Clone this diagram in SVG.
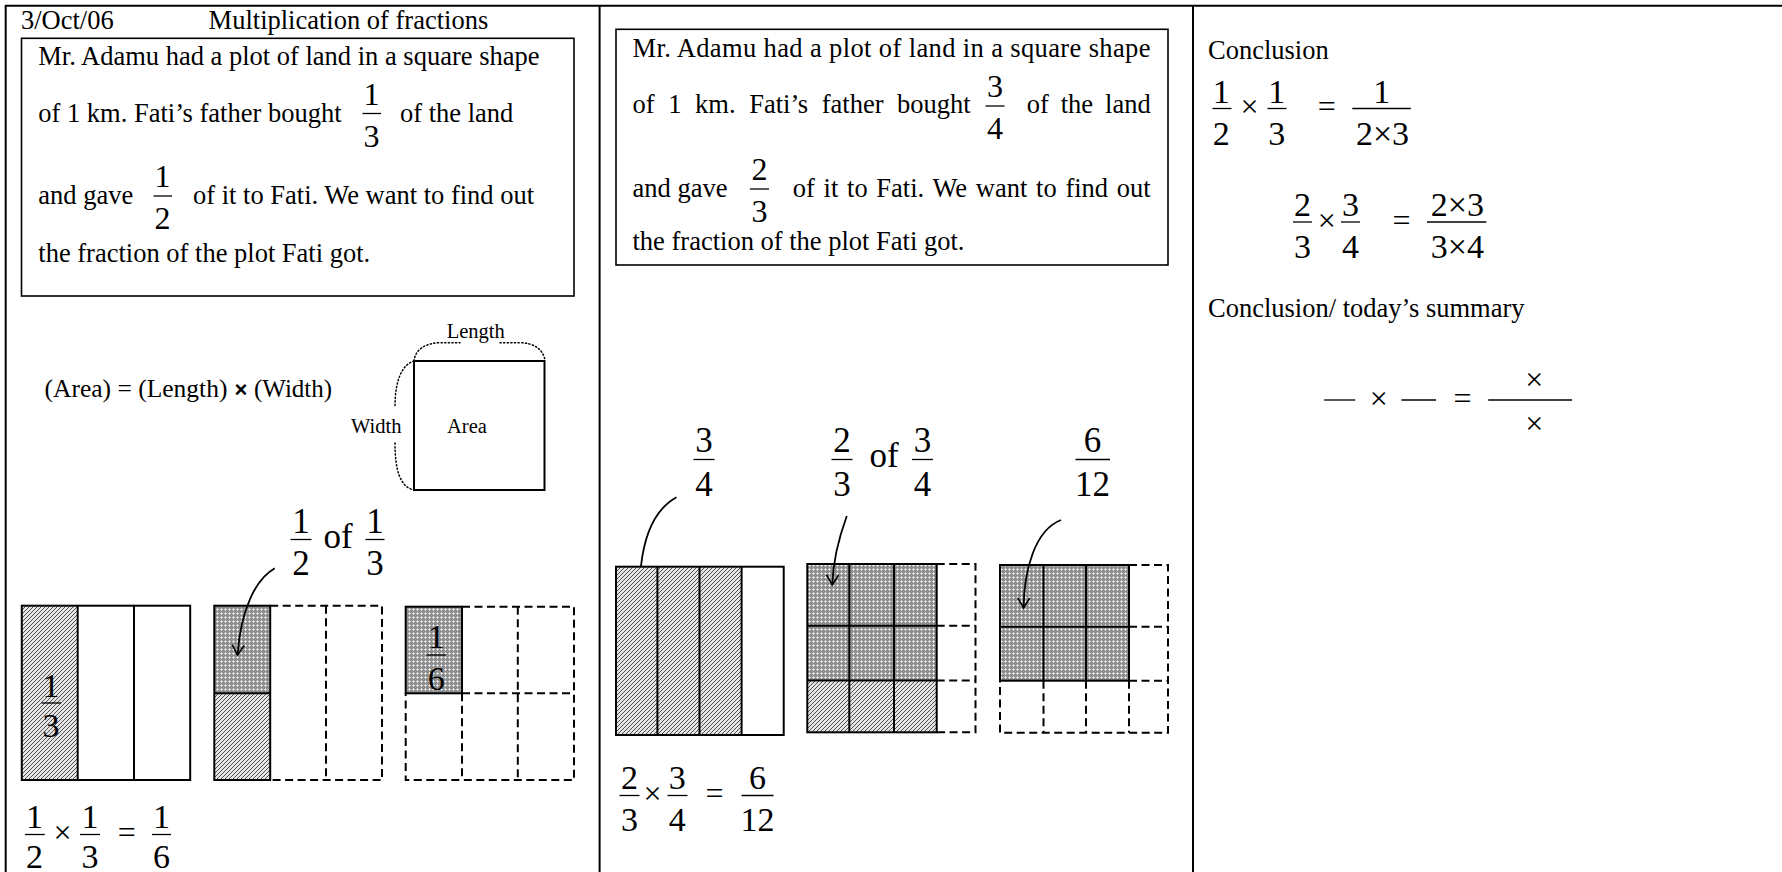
<svg xmlns="http://www.w3.org/2000/svg" width="1782" height="872" viewBox="0 0 1782 872">
<style>
text{font-family:"Liberation Serif","Times New Roman",serif;fill:#000}
.t{font-size:26.5px}
.f{font-size:32px;text-anchor:middle}
.fe{font-size:34px;text-anchor:middle}
.fl{font-size:35px;text-anchor:middle}
.op{font-size:32px;text-anchor:middle}
.s{font-size:20.5px}
.bar{stroke:#000;stroke-width:1.3}
.solid{fill:none;stroke:#000;stroke-width:2}
.dash{fill:none;stroke:#000;stroke-width:2;stroke-dasharray:8 4.5}
.dot{fill:none;stroke:#000;stroke-width:1.5;stroke-dasharray:1.2 2.4;stroke-linecap:round}
.box{fill:none;stroke:#000;stroke-width:1.6}
.frame{fill:none;stroke:#000;stroke-width:2}
.conn{fill:none;stroke:#000;stroke-width:1.8}
.arr{marker-end:url(#ah)}
</style>
<defs>
<pattern id="hatch" patternUnits="userSpaceOnUse" width="4" height="4">
<rect width="4" height="4" fill="#e4e4e4"/>
<path d="M-1,1 L1,-1 M0,4 L4,0 M3,5 L5,3" stroke="#505050" stroke-width="1"/>
</pattern>
<pattern id="cross" patternUnits="userSpaceOnUse" width="4" height="4">
<rect width="4" height="4" fill="#8e8e8e"/>
<rect x="0" y="1" width="3" height="1" fill="#cecece"/>
<rect x="1" y="0" width="1" height="3" fill="#cecece"/>
<rect x="1" y="1" width="1" height="1" fill="#ffffff"/>
</pattern>
<marker id="ah" markerUnits="userSpaceOnUse" markerWidth="16" markerHeight="16" refX="11" refY="7" orient="auto">
<path d="M1,1 L11,7 L1,13" fill="none" stroke="#000" stroke-width="1.6"/>
</marker>
</defs>

<g id="table">
<line class="frame" x1="5" y1="5.7" x2="1782" y2="5.7"/>
<line class="frame" x1="5.7" y1="5" x2="5.7" y2="872"/>
<line class="frame" x1="599.6" y1="5" x2="599.6" y2="872"/>
<line class="frame" x1="1193" y1="5" x2="1193" y2="872"/>
</g>

<g id="header">
<text class="t" x="21" y="29.3">3/Oct/06</text>
<text class="t" x="208.6" y="29.3">Multiplication of fractions</text>
</g>

<g id="problem1">
<rect class="box" x="21.5" y="38.3" width="552.5" height="257.7"/>
<text class="t" x="38.3" y="65">Mr. Adamu had a plot of land in a square shape</text>
<text class="t" x="38.3" y="121.7">of 1 km. Fati’s father bought</text>
<text class="f" x="371.5" y="104.5">1</text>
<line class="bar" x1="362.5" y1="113.5" x2="381" y2="113.5"/>
<text class="f" x="371.5" y="146.5">3</text>
<text class="t" x="400" y="121.7">of the land</text>
<text class="t" x="38.3" y="204">and gave</text>
<text class="f" x="162.6" y="187">1</text>
<line class="bar" x1="153.5" y1="196" x2="172" y2="196"/>
<text class="f" x="162.6" y="229">2</text>
<text class="t" x="193" y="204">of it to Fati. We want to find out</text>
<text class="t" x="38.3" y="261.7">the fraction of the plot Fati got.</text>
</g>

<g id="area-formula">
<text style="font-size:25.5px" x="44.5" y="396.7">(Area) = (Length)</text>
<text style="font-size:22px;font-family:'Liberation Sans',Arial,sans-serif;font-weight:bold" x="234.5" y="396.7">×</text>
<text style="font-size:25px" x="254" y="396.7">(Width)</text>
</g>

<g id="area-square">
<rect class="solid" x="414" y="361" width="130.5" height="129"/>
<path class="dot" d="M414,361 C415,350 425,343 440,342.7 L460,342.7"/>
<path class="dot" d="M500,342.7 L520,342.7 C535,343 543,350 545,360"/>
<path class="dot" d="M414,361 C401,365 395,382 395,407"/>
<path class="dot" d="M395,443 C395,470 400,487 414,490"/>
<text class="s" x="446.7" y="338.3">Length</text>
<text class="s" x="351" y="433">Width</text>
<text class="s" x="447" y="433">Area</text>
</g>

<g id="label-half-of-third">
<text class="fl" x="301" y="533">1</text>
<line class="bar" x1="290.5" y1="539.5" x2="311.5" y2="539.5"/>
<text class="fl" x="301" y="574.5">2</text>
<text class="fl" x="338" y="548">of</text>
<text class="fl" x="375" y="533">1</text>
<line class="bar" x1="365.5" y1="539.5" x2="384.5" y2="539.5"/>
<text class="fl" x="375" y="574.5">3</text>
</g>

<g id="rect-thirds">
<rect x="21.8" y="605.7" width="55.9" height="174.3" fill="url(#hatch)"/>
<rect class="solid" x="21.8" y="605.7" width="168.4" height="174.3"/>
<line class="solid" x1="77.7" y1="605.7" x2="77.7" y2="780"/>
<line class="solid" x1="134" y1="605.7" x2="134" y2="780"/>
<text class="fe" x="51" y="697">1</text>
<line class="bar" x1="41.5" y1="703" x2="61" y2="703"/>
<text class="fe" x="51" y="736.5">3</text>
</g>

<g id="rect-half-of-third">
<rect x="214.3" y="605.7" width="55.9" height="87.6" fill="url(#cross)"/>
<rect x="214.3" y="693.3" width="55.9" height="86.7" fill="url(#hatch)"/>
<rect class="solid" x="214.3" y="605.7" width="55.9" height="174.3"/>
<line class="solid" x1="214.3" y1="693.3" x2="270.2" y2="693.3"/>
<path class="dash" d="M270.2,605.7 H382 V780 H270.2 M326,605.7 V780"/>
</g>

<g id="rect-sixths">
<rect x="405.7" y="606.7" width="56.3" height="86.6" fill="url(#cross)"/>
<rect class="solid" x="405.7" y="606.7" width="56.3" height="86.6"/>
<path class="dash" d="M462,606.7 H574 V780 H405.7 V693.3 M462,693.3 H574 M462,693.3 V780 M517.8,606.7 V780"/>
<text class="fe" x="436.3" y="648">1</text>
<line class="bar" x1="426.5" y1="655" x2="446" y2="655"/>
<text class="fe" x="436.3" y="690">6</text>
</g>

<g id="equation1">
<text class="fe" x="34.4" y="828">1</text>
<line class="bar" x1="25" y1="834.5" x2="44.8" y2="834.5"/>
<text class="fe" x="34.4" y="868">2</text>
<text class="op" x="62.4" y="843">×</text>
<text class="fe" x="90" y="828">1</text>
<line class="bar" x1="80" y1="834.5" x2="100" y2="834.5"/>
<text class="fe" x="90" y="868">3</text>
<text class="op" x="126.8" y="843">=</text>
<text class="fe" x="161.5" y="828">1</text>
<line class="bar" x1="152" y1="834.5" x2="171" y2="834.5"/>
<text class="fe" x="161.5" y="868">6</text>
</g>

<g id="problem2">
<rect class="box" x="616" y="29.3" width="552" height="235.7"/>
<text class="t" x="632.5" y="57.3" textLength="518" lengthAdjust="spacing">Mr. Adamu had a plot of land in a square shape</text>
<text class="t" x="632.5" y="113.3" style="word-spacing:7px">of 1 km. Fati’s father bought</text>
<text class="f" x="995" y="97">3</text>
<line class="bar" x1="985.5" y1="106" x2="1004.5" y2="106"/>
<text class="f" x="995" y="139">4</text>
<text class="t" x="1150.7" y="113.3" style="word-spacing:5.3px;text-anchor:end">of the land</text>
<text class="t" x="632.5" y="196.7">and gave</text>
<text class="f" x="759.6" y="180">2</text>
<line class="bar" x1="750" y1="189" x2="769" y2="189"/>
<text class="f" x="759.6" y="222">3</text>
<text class="t" x="1150.7" y="196.7" style="word-spacing:2.1px;text-anchor:end">of it to Fati. We want to find out</text>
<text class="t" x="632.5" y="250">the fraction of the plot Fati got.</text>
</g>

<g id="label-three-quarters">
<text class="fl" x="704" y="452">3</text>
<line class="bar" x1="693.5" y1="459.5" x2="714.5" y2="459.5"/>
<text class="fl" x="704" y="496">4</text>
</g>
<g id="label-two-thirds-of">
<text class="fl" x="842" y="452">2</text>
<line class="bar" x1="831.5" y1="459.5" x2="852.5" y2="459.5"/>
<text class="fl" x="842" y="496">3</text>
<text class="fl" x="884" y="467">of</text>
<text class="fl" x="922.5" y="452">3</text>
<line class="bar" x1="912" y1="459.5" x2="933" y2="459.5"/>
<text class="fl" x="922.5" y="496">4</text>
</g>
<g id="label-six-twelfths">
<text class="fl" x="1092.5" y="452">6</text>
<line class="bar" x1="1075.5" y1="459.5" x2="1110" y2="459.5"/>
<text class="fl" x="1092.5" y="496">12</text>
</g>

<g id="rect-quarters">
<rect x="616" y="566.7" width="125.6" height="168.3" fill="url(#hatch)"/>
<rect class="solid" x="616" y="566.7" width="167.7" height="168.3"/>
<line class="solid" x1="657.4" y1="566.7" x2="657.4" y2="735"/>
<line class="solid" x1="699.5" y1="566.7" x2="699.5" y2="735"/>
<line class="solid" x1="741.6" y1="566.7" x2="741.6" y2="735"/>
</g>

<g id="rect-two-thirds-of">
<rect x="807.3" y="564" width="129.4" height="116.5" fill="url(#cross)"/>
<rect x="807.3" y="680.5" width="129.4" height="51.8" fill="url(#hatch)"/>
<rect class="solid" x="807.3" y="564" width="129.4" height="168.3"/>
<path class="solid" d="M849.3,564 V732.3 M894,564 V732.3 M807.3,625.7 H936.7 M807.3,680.5 H936.7"/>
<path class="dash" d="M936.7,564 H975.5 V732.3 H936.7 M936.7,625.7 H975.5 M936.7,680.5 H975.5"/>
</g>

<g id="rect-twelfths">
<rect x="1000" y="565" width="129" height="115.7" fill="url(#cross)"/>
<rect class="solid" x="1000" y="565" width="129" height="115.7"/>
<path class="solid" d="M1043.5,565 V680.7 M1086,565 V680.7 M1000,626.7 H1129"/>
<path class="dash" d="M1129,565 H1168 V732.7 H1000 V680.7 M1129,626.7 H1168 M1129,680.7 H1168 M1043.5,680.7 V732.7 M1086,680.7 V732.7 M1129,680.7 V732.7"/>
</g>

<g id="equation2">
<text class="fe" x="629.4" y="789">2</text>
<line class="bar" x1="619.5" y1="795.5" x2="639.5" y2="795.5"/>
<text class="fe" x="629.4" y="830.5">3</text>
<text class="op" x="652.4" y="804">×</text>
<text class="fe" x="677.3" y="789">3</text>
<line class="bar" x1="667.5" y1="795.5" x2="687.5" y2="795.5"/>
<text class="fe" x="677.3" y="830.5">4</text>
<text class="op" x="714.4" y="804">=</text>
<text class="fe" x="757.6" y="789">6</text>
<line class="bar" x1="741.6" y1="795.5" x2="773.5" y2="795.5"/>
<text class="fe" x="757.6" y="830.5">12</text>
</g>

<g id="conclusion">
<text class="t" x="1208" y="59.3">Conclusion</text>
<text class="fe" x="1221.3" y="103">1</text>
<line class="bar" x1="1212.5" y1="108.5" x2="1231.5" y2="108.5"/>
<text class="fe" x="1221.3" y="145">2</text>
<text class="op" x="1249.6" y="117">×</text>
<text class="fe" x="1276.8" y="103">1</text>
<line class="bar" x1="1267.5" y1="108.5" x2="1286.5" y2="108.5"/>
<text class="fe" x="1276.8" y="145">3</text>
<text class="op" x="1326.7" y="117">=</text>
<text class="fe" x="1381.8" y="103">1</text>
<line class="bar" x1="1352.3" y1="108.5" x2="1410.8" y2="108.5"/>
<text class="fe" x="1382.5" y="145">2×3</text>

<text class="fe" x="1302.5" y="216">2</text>
<line class="bar" x1="1293" y1="222" x2="1312" y2="222"/>
<text class="fe" x="1302.5" y="258">3</text>
<text class="op" x="1326.7" y="230.5">×</text>
<text class="fe" x="1350.4" y="216">3</text>
<line class="bar" x1="1341" y1="222" x2="1360" y2="222"/>
<text class="fe" x="1350.4" y="258">4</text>
<text class="op" x="1401.4" y="230.5">=</text>
<text class="fe" x="1457.3" y="216">2×3</text>
<line class="bar" x1="1427" y1="222" x2="1486.3" y2="222"/>
<text class="fe" x="1457.3" y="258">3×4</text>
</g>

<g id="summary">
<text class="t" x="1208" y="316.7">Conclusion/ today’s summary</text>
<line class="bar" x1="1324" y1="400" x2="1355.3" y2="400"/>
<text class="op" x="1378.8" y="408.5">×</text>
<line class="bar" x1="1401.4" y1="400" x2="1436" y2="400"/>
<text class="op" x="1462.6" y="408.5">=</text>
<line class="bar" x1="1488.2" y1="400" x2="1572" y2="400"/>
<text class="op" x="1534.3" y="389.5">×</text>
<text class="op" x="1534.3" y="434">×</text>
</g>

<g id="connectors">
<path class="conn arr" d="M274.8,568.3 C256,579 241,608 237.5,655"/>
<path class="conn" d="M676.5,497.3 C657,508 645,530 641,566"/>
<path class="conn arr" d="M846.8,516 C838,540 833,560 832.3,585"/>
<path class="conn arr" d="M1061,520 C1035,530 1024,570 1023.6,608"/>
</g>
</svg>
